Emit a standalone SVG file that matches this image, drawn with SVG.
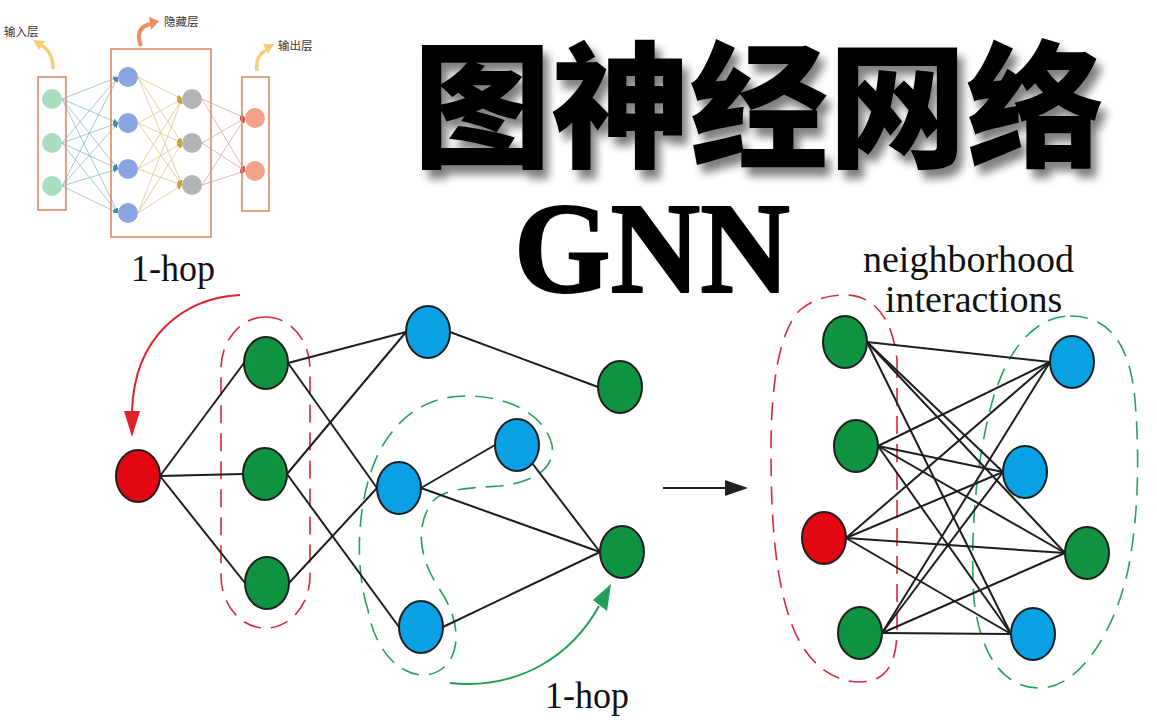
<svg xmlns="http://www.w3.org/2000/svg" width="1157" height="722" viewBox="0 0 1157 722">
<style>
.box{fill:none;stroke:#d98a66;stroke-width:1.6}
.ci{fill:#a9dcc1}
.ch1{fill:#8ba5e2}
.ch2{fill:#b3b3b3}
.co{fill:#f6a189}
.e1{stroke:#86bccf;stroke-width:0.8}
.e2{stroke:#dcc78e;stroke-width:0.8}
.e3{stroke:#dba6ad;stroke-width:0.8}
.lbl{font-family:"Noto Sans CJK SC","Noto Sans",sans-serif;font-size:11.5px;fill:#333}
.edge{stroke:#1e1e1e;stroke-width:2;fill:none}
.n{stroke:#1e1e1e;stroke-width:2}
.g{fill:#0f9341}
.b{fill:#0aa0e4}
.r{fill:#e30613}
.dr{fill:none;stroke:#d8283e;stroke-width:1.6;stroke-dasharray:18 10}
.dg{fill:none;stroke:#27a05e;stroke-width:1.6;stroke-dasharray:18 10}
.en{font-family:"Liberation Serif","Times New Roman",serif;fill:#111}
</style>
<defs>
<filter id="sh" x="-10%" y="-20%" width="130%" height="160%">
<feGaussianBlur in="SourceAlpha" stdDeviation="4"/>
<feOffset dx="6" dy="9" result="o"/>
<feComponentTransfer><feFuncA type="linear" slope="0.5"/></feComponentTransfer>
<feMerge><feMergeNode/><feMergeNode in="SourceGraphic"/></feMerge>
</filter>
<marker id="mb" viewBox="0 0 6 6" refX="6" refY="3" markerWidth="5" markerHeight="5" orient="auto" markerUnits="userSpaceOnUse"><path d="M0,0L6,3L0,6Z" fill="#3a8fb0"/></marker>
<marker id="my" viewBox="0 0 6 6" refX="6" refY="3" markerWidth="5" markerHeight="5" orient="auto" markerUnits="userSpaceOnUse"><path d="M0,0L6,3L0,6Z" fill="#c9a030"/></marker>
<marker id="mr" viewBox="0 0 6 6" refX="6" refY="3" markerWidth="5" markerHeight="5" orient="auto" markerUnits="userSpaceOnUse"><path d="M0,0L6,3L0,6Z" fill="#d04040"/></marker>
</defs>
<rect width="1157" height="722" fill="#fff"/>

<!-- small neural network -->
<g id="nn-connectors">
<g class="e1" marker-end="url(#mb)">
<line x1="62" y1="99" x2="118" y2="77"/><line x1="62" y1="99" x2="118" y2="123"/><line x1="62" y1="99" x2="118" y2="169"/><line x1="62" y1="99" x2="118" y2="213"/>
<line x1="62" y1="143" x2="118" y2="77"/><line x1="62" y1="143" x2="118" y2="123"/><line x1="62" y1="143" x2="118" y2="169"/><line x1="62" y1="143" x2="118" y2="213"/>
<line x1="62" y1="186" x2="118" y2="77"/><line x1="62" y1="186" x2="118" y2="123"/><line x1="62" y1="186" x2="118" y2="169"/><line x1="62" y1="186" x2="118" y2="213"/>
</g>
<g class="e2" marker-end="url(#my)">
<line x1="138" y1="77" x2="182" y2="99"/><line x1="138" y1="77" x2="182" y2="143"/><line x1="138" y1="77" x2="182" y2="185"/>
<line x1="138" y1="123" x2="182" y2="99"/><line x1="138" y1="123" x2="182" y2="143"/><line x1="138" y1="123" x2="182" y2="185"/>
<line x1="138" y1="169" x2="182" y2="99"/><line x1="138" y1="169" x2="182" y2="143"/><line x1="138" y1="169" x2="182" y2="185"/>
<line x1="138" y1="213" x2="182" y2="99"/><line x1="138" y1="213" x2="182" y2="143"/><line x1="138" y1="213" x2="182" y2="185"/>
</g>
<g class="e3" marker-end="url(#mr)">
<line x1="202" y1="99" x2="245" y2="118"/><line x1="202" y1="99" x2="245" y2="171"/>
<line x1="202" y1="143" x2="245" y2="118"/><line x1="202" y1="143" x2="245" y2="171"/>
<line x1="202" y1="185" x2="245" y2="118"/><line x1="202" y1="185" x2="245" y2="171"/>
</g>
</g>
<g id="nn-input">
<rect class="box" x="38" y="77" width="28" height="133"/>
<circle class="ci" cx="52" cy="99" r="10"/><circle class="ci" cx="52" cy="143" r="10"/><circle class="ci" cx="52" cy="186" r="10"/>
<path d="M53,69 Q53,52 41,45" fill="none" stroke="#f7cd7a" stroke-width="3.5"/>
<path d="M33,40 L45,41 L39,50 Z" fill="#f7cd7a"/>
<text class="lbl" x="4" y="36">输入层</text>
</g>
<g id="nn-hidden">
<rect class="box" x="111" y="49" width="100" height="188"/>
<circle class="ch1" cx="128" cy="77" r="10"/><circle class="ch1" cx="128" cy="123" r="10"/><circle class="ch1" cx="128" cy="169" r="10"/><circle class="ch1" cx="128" cy="213" r="10"/>
<circle class="ch2" cx="192" cy="99" r="10"/><circle class="ch2" cx="192" cy="143" r="10"/><circle class="ch2" cx="192" cy="185" r="10"/>
<path d="M141,46 Q134,28 150,24" fill="none" stroke="#f18b62" stroke-width="4"/>
<path d="M149,17 L159,21 L151,30 Z" fill="#f18b62"/>
<text class="lbl" x="164" y="26">隐藏层</text>
</g>
<g id="nn-output">
<rect class="box" x="242" y="77" width="27" height="134"/>
<circle class="co" cx="255" cy="118" r="10"/><circle class="co" cx="255" cy="171" r="10"/>
<path d="M257,71 Q255,56 266,50" fill="none" stroke="#f7cd7a" stroke-width="3.5"/>
<path d="M263,44 L274,44 L268,54 Z" fill="#f7cd7a"/>
<text class="lbl" x="278" y="49.5">输出层</text>
</g>

<!-- titles -->
<g id="title">
<text x="413" y="157" textLength="692" lengthAdjust="spacingAndGlyphs" font-family="'Noto Sans CJK SC','Noto Sans CJK JP',sans-serif" font-weight="900" font-size="136" fill="#000" filter="url(#sh)">图神经网络</text>
</g>
<g id="gnn">
<text x="514" y="292" textLength="276" lengthAdjust="spacingAndGlyphs" font-family="'Liberation Serif','Times New Roman',serif" font-weight="bold" font-size="130" fill="#000" stroke="#000" stroke-width="2" stroke-linejoin="round">GNN</text>
</g>

<!-- left graph dashed groups and labels -->
<g id="left-groups">
<rect class="dr" x="221" y="317" width="89" height="311" rx="44" ry="52"/>
<path class="dg" d="M368,610 C355,570 355,500 380,450 C405,405 440,395 470,396 C510,397 545,415 552,445 C556,470 530,483 500,486 C470,488 440,488 430,505 C415,530 420,560 440,590 C455,612 462,640 450,660 C440,676 420,679 405,670 C385,660 372,635 368,610 Z"/>
</g>
<g id="hop-top">
<text class="en" x="131" y="281" font-size="38" textLength="84" lengthAdjust="spacingAndGlyphs">1-hop</text>
<path d="M240,295 C185,298 134,335 132,412" fill="none" stroke="#e4202e" stroke-width="2"/>
<path d="M124,411 L140,411 L132,437 Z" fill="#e4202e"/>
</g>
<g id="hop-bottom">
<text class="en" x="545" y="708" font-size="38" textLength="84" lengthAdjust="spacingAndGlyphs">1-hop</text>
<path d="M450,683 C520,690 572,655 599,606" fill="none" stroke="#20a055" stroke-width="2"/>
<path d="M593,600 L607,611 L611,584 Z" fill="#20a055"/>
</g>

<!-- left graph connectors -->
<g id="connectors-left" class="edge">
<line x1="160" y1="476" x2="244" y2="363"/>
<line x1="160" y1="476" x2="243" y2="474"/>
<line x1="160" y1="476" x2="245" y2="583"/>
<line x1="288" y1="363" x2="406" y2="332"/>
<line x1="288" y1="363" x2="377" y2="488"/>
<line x1="287" y1="474" x2="406" y2="332"/>
<line x1="287" y1="474" x2="399" y2="627"/>
<line x1="289" y1="583" x2="377" y2="488"/>
<line x1="450" y1="332" x2="598" y2="387"/>
<line x1="421" y1="488" x2="495" y2="445"/>
<line x1="421" y1="488" x2="600" y2="552"/>
<line x1="532" y1="463" x2="600" y2="552"/>
<line x1="443" y1="627" x2="600" y2="552"/>
</g>

<!-- left graph nodes -->
<g id="L-red"><ellipse class="n r" cx="138" cy="476" rx="22" ry="26"/></g>
<g id="L-g1"><ellipse class="n g" cx="266" cy="363" rx="22" ry="26"/></g>
<g id="L-g2"><ellipse class="n g" cx="265" cy="474" rx="22" ry="26"/></g>
<g id="L-g3"><ellipse class="n g" cx="267" cy="583" rx="22" ry="26"/></g>
<g id="L-b1"><ellipse class="n b" cx="428" cy="332" rx="22" ry="26"/></g>
<g id="L-b2"><ellipse class="n b" cx="399" cy="488" rx="22" ry="26"/></g>
<g id="L-b3"><ellipse class="n b" cx="517" cy="445" rx="22" ry="26"/></g>
<g id="L-b4"><ellipse class="n b" cx="421" cy="627" rx="22" ry="26"/></g>
<g id="L-g4"><ellipse class="n g" cx="620" cy="387" rx="22" ry="26"/></g>
<g id="L-g5"><ellipse class="n g" cx="622" cy="552" rx="22" ry="26"/></g>

<!-- transition arrow -->
<g id="arrow-mid">
<line x1="663" y1="488" x2="728" y2="488" stroke="#1e1e1e" stroke-width="2"/>
<path d="M725,480 L748,488 L725,496 Z" fill="#1e1e1e"/>
</g>

<!-- right graph -->
<g id="right-groups">
<path class="dr" d="M897,360 L897,630 C897,665 885,682 860,682 C830,682 805,660 792,625 C775,580 771,520 771,450 C771,380 780,330 800,310 C815,298 830,295 845,295 C875,295 893,320 897,360 Z"/>
<path class="dg" d="M1070,316 C1110,316 1130,345 1135,400 C1140,460 1138,520 1128,570 C1115,630 1080,688 1040,688 C1000,688 980,650 974,600 C970,540 975,470 990,410 C1005,350 1035,316 1070,316 Z"/>
</g>
<g id="label-neigh">
<text class="en" x="863" y="272" font-size="38">neighborhood</text>
<text class="en" x="885" y="312" font-size="38">interactions</text>
</g>
<g id="connectors-right" class="edge">
<line x1="867" y1="342" x2="1050" y2="362"/><line x1="867" y1="342" x2="1003" y2="472"/><line x1="867" y1="342" x2="1065" y2="553"/><line x1="867" y1="342" x2="1011" y2="634"/>
<line x1="878" y1="446" x2="1050" y2="362"/><line x1="878" y1="446" x2="1003" y2="472"/><line x1="878" y1="446" x2="1065" y2="553"/><line x1="878" y1="446" x2="1011" y2="634"/>
<line x1="846" y1="538" x2="1050" y2="362"/><line x1="846" y1="538" x2="1003" y2="472"/><line x1="846" y1="538" x2="1065" y2="553"/><line x1="846" y1="538" x2="1011" y2="634"/>
<line x1="882" y1="633" x2="1050" y2="362"/><line x1="882" y1="633" x2="1003" y2="472"/><line x1="882" y1="633" x2="1065" y2="553"/><line x1="882" y1="633" x2="1011" y2="634"/>
</g>
<g id="R-g1"><ellipse class="n g" cx="845" cy="342" rx="22" ry="26"/></g>
<g id="R-g2"><ellipse class="n g" cx="856" cy="446" rx="22" ry="26"/></g>
<g id="R-red"><ellipse class="n r" cx="824" cy="538" rx="22" ry="26"/></g>
<g id="R-g3"><ellipse class="n g" cx="860" cy="633" rx="22" ry="26"/></g>
<g id="R-b1"><ellipse class="n b" cx="1072" cy="362" rx="22" ry="26"/></g>
<g id="R-b2"><ellipse class="n b" cx="1025" cy="472" rx="22" ry="26"/></g>
<g id="R-g4"><ellipse class="n g" cx="1087" cy="553" rx="22" ry="26"/></g>
<g id="R-b3"><ellipse class="n b" cx="1033" cy="634" rx="22" ry="26"/></g>
</svg>
